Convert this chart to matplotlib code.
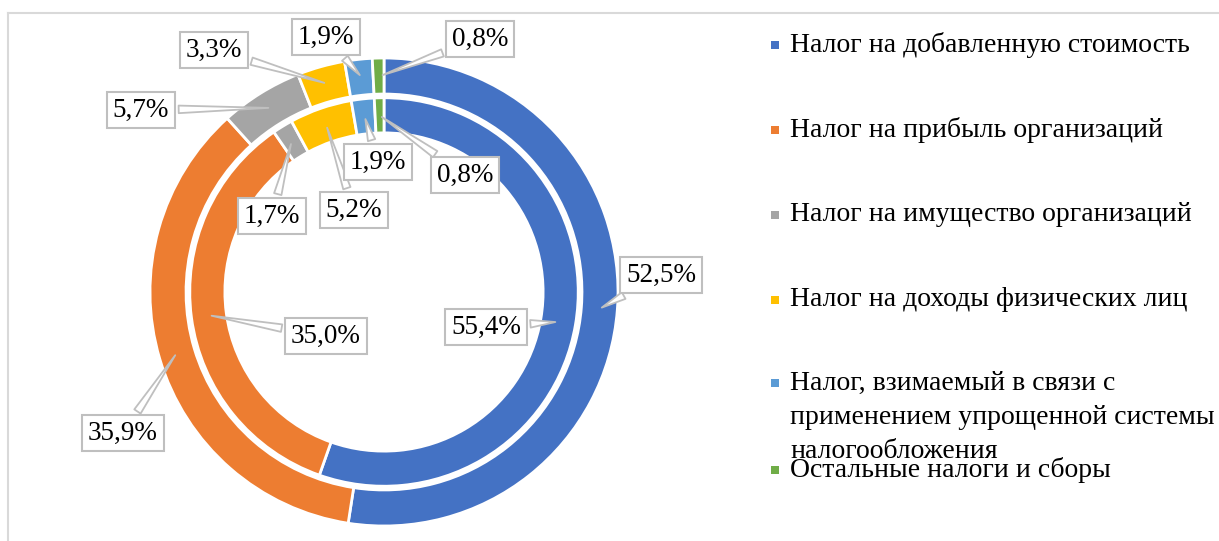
import numpy as np
import matplotlib
matplotlib.use("Agg")
import matplotlib.pyplot as plt
from matplotlib.lines import Line2D

plt.rcParams['font.family'] = ['Liberation Serif', 'DejaVu Serif']

categories = ["Налог на добавленную стоимость",
              "Налог на прибыль организаций",
              "Налог на имущество организаций",
              "Налог на доходы физических лиц",
              "Налог, взимаемый в связи с\nприменением упрощенной системы\nналогообложения",
              "Остальные налоги и сборы"]
outer_vals = [52.5, 35.9, 5.7, 3.3, 1.9, 0.8]
inner_vals = [55.4, 35.0, 1.7, 5.2, 1.9, 0.8]
colors = ["#4472C4", "#ED7D31", "#A5A5A5", "#FFC000", "#5B9BD5", "#70AD47"]

W, H = 1219, 541
cx, cy, R = 384, 292, 234  # pixel centre / radius of outer ring

fig = plt.figure(figsize=(W/100, H/100), dpi=100)
ax = fig.add_axes([0, 0, 1, 1])

def px(x, y):
    return ((x-cx)/R, (cy-y)/R)

r_out, w_out = 1.0, 0.154
r_in, w_in = 0.83, 0.15
ax.pie(outer_vals, radius=r_out, colors=colors, startangle=90, counterclock=False,
       wedgeprops=dict(width=w_out, edgecolor='white', linewidth=2))
ax.pie(inner_vals, radius=r_in, colors=colors, startangle=90, counterclock=False,
       wedgeprops=dict(width=w_in, edgecolor='white', linewidth=2))
ax.set_xlim(-cx/R, (W-cx)/R)
ax.set_ylim(-(H-cy)/R, cy/R)
ax.set_aspect('auto')
ax.axis('off')

# label box centres (pixels)
outer_pos = [(661, 275), (123, 433), (141, 110), (214, 50), (326, 37), (480, 39)]
inner_pos = [(486, 327), (326, 336), (272, 216), (354, 210), (378, 162), (465, 175)]

def fmt(v):
    return f"{v:.1f}%".replace('.', ',')

def label_ring(vals, r, w, positions):
    ang0 = 90.0
    for v, pos in zip(vals, positions):
        mid = np.deg2rad(ang0 - v/100*360/2)
        ang0 -= v/100*360
        rr = r - w/2
        ax.annotate(fmt(v), xy=(rr*np.cos(mid), rr*np.sin(mid)), xytext=px(*pos),
                    ha='center', va='center', fontsize=19.5, annotation_clip=False,
                    bbox=dict(boxstyle='square,pad=0.22', fc='white', ec='#bfbfbf', lw=1.5),
                    arrowprops=dict(arrowstyle='wedge,tail_width=0.28,shrink_factor=0.5',
                                    fc='white', ec='#bfbfbf', lw=1.3))

label_ring(outer_vals, r_out, w_out, outer_pos)
label_ring(inner_vals, r_in, w_in, inner_pos)

# legend
leg_y = [45, 130, 215, 300, 383, 470]
for cat, col, y in zip(categories, colors, leg_y):
    fig.patches.append(plt.Rectangle((771/W, 1-(y+4)/H), 8/W, 8/H, transform=fig.transFigure,
                                     fc=col, ec='none'))
    fig.text(790/W, 1-y/H, cat.split('\n')[0], fontsize=20, va='center', ha='left')
    for k, line in enumerate(cat.split('\n')[1:], start=1):
        fig.text(790/W, 1-(y+k*34)/H, line, fontsize=20, va='center', ha='left')

# frame
fig.add_artist(Line2D([8/W, 1], [1-13/H, 1-13/H], color='#d9d9d9', lw=1.5, transform=fig.transFigure))
fig.add_artist(Line2D([8/W, 8/W], [0, 1-13/H], color='#d9d9d9', lw=1.5, transform=fig.transFigure))

fig.savefig("out.png", dpi=100)
